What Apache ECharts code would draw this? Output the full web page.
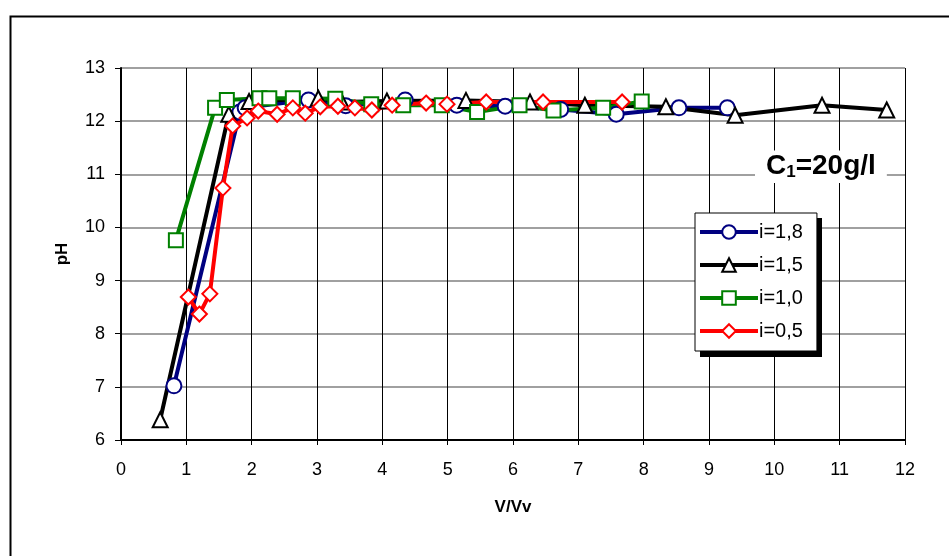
<!DOCTYPE html>
<html>
<head>
<meta charset="utf-8">
<script src="https://cdn.jsdelivr.net/npm/echarts@6/dist/echarts.min.js"></script>
<style>
html,body{margin:0;padding:0;background:#fff;}
#chart{width:949px;height:556px;}
</style>
</head>
<body>
<div id="chart"></div>
<script>
// pH versus V/Vv for four i values (C1 = 20 g/l)
var seriesNames = ['i=1,8', 'i=1,5', 'i=1,0', 'i=0,5'];

var dataI18 = [
  [0.81, 7.02], [1.82, 12.17], [1.9, 12.25], [2.87, 12.4], [3.44, 12.29], [4.35, 12.4],
  [5.14, 12.3], [5.88, 12.28], [6.73, 12.22], [7.58, 12.13], [8.54, 12.25], [9.28, 12.25]
];
var dataI15 = [
  [0.6, 6.38], [1.65, 12.13], [1.96, 12.37], [3.02, 12.43], [3.38, 12.36], [4.07, 12.38],
  [5.28, 12.39], [6.26, 12.36], [7.1, 12.3], [8.34, 12.27], [9.4, 12.11], [10.73, 12.3], [11.72, 12.21]
];
var dataI10 = [
  [0.84, 9.76], [1.44, 12.25], [1.62, 12.4], [2.12, 12.43], [2.27, 12.43], [2.63, 12.43],
  [3.28, 12.42], [3.83, 12.32], [4.32, 12.3], [4.91, 12.3], [5.45, 12.17], [6.1, 12.3],
  [6.62, 12.2], [7.38, 12.25], [7.97, 12.37]
];
var dataI05 = [
  [1.03, 8.69], [1.2, 8.37], [1.36, 8.75], [1.56, 10.74], [1.71, 11.91], [1.93, 12.06],
  [2.1, 12.19], [2.39, 12.13], [2.63, 12.25], [2.82, 12.15], [3.05, 12.27], [3.32, 12.28],
  [3.58, 12.25], [3.84, 12.21], [4.15, 12.3], [4.67, 12.34], [4.99, 12.32], [5.59, 12.36],
  [6.46, 12.36], [7.67, 12.36]
];

var xTicks = [0, 1, 2, 3, 4, 5, 6, 7, 8, 9, 10, 11, 12];
var yTicks = [6, 7, 8, 9, 10, 11, 12, 13];

var FONT = 'Liberation Sans, Arial, sans-serif';

function lineSeries(name, data, color, symbol, size) {
  return {
    name: name,
    type: 'line',
    data: data,
    symbol: symbol,
    symbolSize: size,
    showAllSymbol: true,
    color: color,
    lineStyle: { color: color, width: 4 },
    itemStyle: { color: '#fff', borderColor: color, borderWidth: 2 },
    emphasis: { disabled: true },
    animation: false
  };
}

var chart = echarts.init(document.getElementById('chart'), null, { renderer: 'canvas' });
chart.setOption({
  backgroundColor: '#fff',
  animation: false,
  title: {
    text: '{a|C}{s|1}{a|=20g/l}',
    left: 755,
    top: 150,
    backgroundColor: '#fff',
    padding: [2, 11, 2, 11],
    textStyle: {
      rich: {
        a: { fontFamily: FONT, fontWeight: 'bold', fontSize: 28, color: '#000' },
        s: { fontFamily: FONT, fontWeight: 'bold', fontSize: 17, color: '#000', verticalAlign: 'bottom', padding: [12, 0, 0, 0] }
      }
    }
  },
  graphic: [
    { type: 'rect', left: 8, top: 14, shape: { width: 960, height: 560 },
      style: { fill: 'none', stroke: '#000', lineWidth: 2 }, silent: true },
    { type: 'rect', left: 700, top: 218, shape: { width: 122, height: 139 },
      style: { fill: '#000' }, z: 1, silent: true }
  ],
  legend: {
    orient: 'vertical',
    left: 695,
    top: 213,
    data: seriesNames,
    backgroundColor: '#fff',
    borderColor: '#000',
    borderWidth: 1,
    padding: [9, 14, 10, 3],
    itemWidth: 58,
    itemHeight: 17,
    itemGap: 13,
    lineStyle: { width: 4 },
    textStyle: { fontFamily: FONT, fontSize: 20, color: '#000', padding: [0, 0, 0, -4] },
    z: 5
  },
  grid: { left: 121, right: 44, top: 68, bottom: 116, containLabel: false },
  xAxis: {
    type: 'value',
    min: xTicks[0],
    max: xTicks[xTicks.length - 1],
    interval: 1,
    name: 'V/Vv',
    nameLocation: 'middle',
    nameGap: 59,
    nameTextStyle: { fontFamily: FONT, fontSize: 17, fontWeight: 'bold', color: '#000' },
    axisLine: { onZero: false, lineStyle: { color: '#000', width: 2 } },
    axisTick: { show: true, length: 5, lineStyle: { color: '#000' } },
    axisLabel: { fontFamily: FONT, fontSize: 18, color: '#000', margin: 21 },
    splitLine: { show: true, lineStyle: { color: '#000', width: 1 } }
  },
  yAxis: {
    type: 'value',
    min: yTicks[0],
    max: yTicks[yTicks.length - 1],
    interval: 1,
    name: 'pH',
    nameLocation: 'middle',
    nameGap: 50,
    nameTextStyle: { fontFamily: FONT, fontSize: 17, fontWeight: 'bold', color: '#000' },
    axisLine: { onZero: false, lineStyle: { color: '#000', width: 2 } },
    axisTick: { show: true, length: 6, lineStyle: { color: '#000' } },
    axisLabel: { fontFamily: FONT, fontSize: 18, color: '#000', margin: 16 },
    splitLine: { show: true, lineStyle: { color: '#808080', width: 1.5 } }
  },
  series: [
    lineSeries(seriesNames[0], dataI18, '#000080', 'circle', 15),
    lineSeries(seriesNames[1], dataI15, '#000000', 'triangle', 15),
    lineSeries(seriesNames[2], dataI10, '#008000', 'rect', 14),
    lineSeries(seriesNames[3], dataI05, '#ff0000', 'diamond', 15)
  ]
});
</script>
</body>
</html>
